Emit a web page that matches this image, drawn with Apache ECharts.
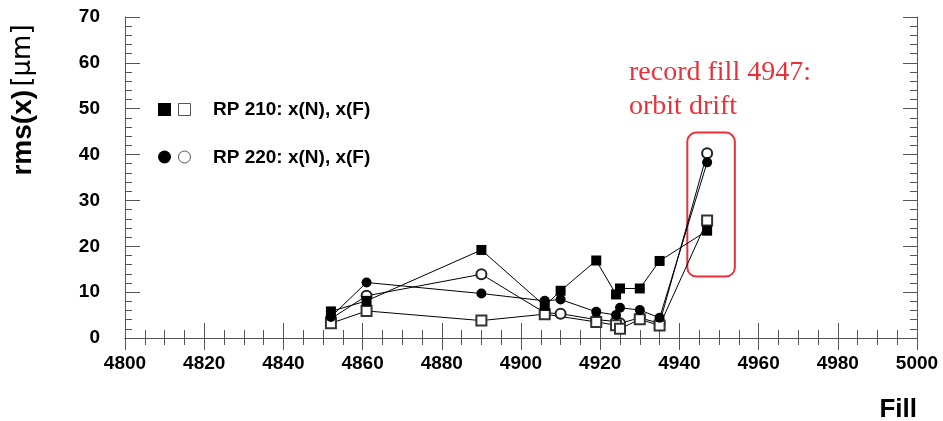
<!DOCTYPE html>
<html>
<head>
<meta charset="utf-8">
<script src="https://cdn.jsdelivr.net/npm/echarts@6/dist/echarts.min.js"></script>
<style>
  html, body { margin: 0; padding: 0; background: #fff; }
  #chart { width: 943px; height: 421px; }
</style>
</head>
<body>
<div id="chart"></div>
<script>
// Fill numbers and rms(x) values [µm] per Roman Pot unit
const fillsRP210N = [4852, 4861, 4890, 4906, 4910, 4919, 4924, 4925, 4930, 4935, 4947];
const rmsRP210N   = [5.8, 8.1, 19.2, 7.0, 10.3, 16.9, 9.5, 10.8, 10.8, 16.8, 23.4];

const fillsRP210F = [4852, 4861, 4890, 4906, 4919, 4924, 4925, 4930, 4935, 4947];
const rmsRP210F   = [3.2, 5.9, 3.8, 5.2, 3.5, 2.8, 2.0, 4.1, 2.7, 25.6];

const fillsRP220N = [4852, 4861, 4890, 4906, 4910, 4919, 4924, 4925, 4930, 4935, 4947];
const rmsRP220N   = [4.6, 12.1, 9.7, 8.1, 8.4, 5.7, 5.0, 6.6, 6.1, 4.4, 38.3];

const fillsRP220F = [4852, 4861, 4890, 4906, 4910, 4919, 4924, 4925, 4930, 4935, 4947];
const rmsRP220F   = [4.2, 9.2, 13.9, 5.5, 5.3, 4.0, 3.6, 3.2, 4.4, 3.2, 40.3];

const legendLabels = ['RP 210: x(N), x(F)', 'RP 220: x(N), x(F)'];
const noteLines = ['record fill 4947:', 'orbit drift'];
const xTitle = 'Fill';

// Highlight box around the record fill, in data units
const boxFill = [4942, 4954];
const boxRms = [44.8, 13.4];

const pair = (xs, ys) => xs.map((x, i) => [x, ys[i]]);

const labelFont = { fontFamily: 'Liberation Sans, Arial, sans-serif', fontWeight: 'bold', fontSize: 19, color: '#000' };
const axisGray = '#555';

function frameAxis(extra) {
  return Object.assign({
    axisLine: { show: true, lineStyle: { color: axisGray, width: 1 } },
    splitLine: { show: false },
    minorSplitLine: { show: false }
  }, extra);
}

const chart = echarts.init(document.getElementById('chart'), null, { renderer: 'canvas' });

const lineStyle = { color: '#000', width: 1 };
const plain = v => String(v);

chart.setOption({
  animation: false,
  backgroundColor: '#fff',
  grid: { left: 125, right: 26, top: 17, bottom: 83 },
  xAxis: [
    frameAxis({
      type: 'value', min: 4800, max: 5000, interval: 20, position: 'bottom',
      axisTick: { show: true, inside: true, length: 15, lineStyle: { color: axisGray } },
      minorTick: { show: true, splitNumber: 4, length: 8, lineStyle: { color: axisGray } },
      axisLabel: Object.assign({ margin: 16, formatter: plain }, labelFont)
    }),
    frameAxis({
      type: 'value', min: 4800, max: 5000, interval: 20, position: 'top',
      axisTick: { show: true, inside: true, length: 12, lineStyle: { color: axisGray } },
      minorTick: { show: true, splitNumber: 4, length: 7, lineStyle: { color: axisGray } },
      axisLabel: { show: false }
    })
  ],
  yAxis: [
    frameAxis({
      type: 'value', min: 0, max: 70, interval: 10, position: 'left',
      axisTick: { show: true, inside: true, length: 15, lineStyle: { color: axisGray } },
      minorTick: { show: true, splitNumber: 5, length: 7, lineStyle: { color: axisGray } },
      axisLabel: Object.assign({ margin: 25, formatter: plain }, labelFont)
    }),
    frameAxis({
      type: 'value', min: 0, max: 70, interval: 10, position: 'right',
      axisTick: { show: true, inside: true, length: 14, lineStyle: { color: axisGray } },
      minorTick: { show: true, splitNumber: 5, length: 7, lineStyle: { color: axisGray } },
      axisLabel: { show: false }
    })
  ],
  series: [
    {
      name: 'RP 220 x(F)', type: 'line', data: pair(fillsRP220F, rmsRP220F),
      symbol: 'emptyCircle', symbolSize: 10, lineStyle,
      itemStyle: { color: '#222', borderColor: '#222', borderWidth: 1 }
    },
    {
      name: 'RP 210 x(F)', type: 'line', data: pair(fillsRP210F, rmsRP210F),
      symbol: 'emptyRect', symbolSize: 10, lineStyle,
      itemStyle: { color: '#333', borderColor: '#333', borderWidth: 1 }
    },
    {
      name: 'RP 220 x(N)', type: 'line', data: pair(fillsRP220N, rmsRP220N),
      symbol: 'circle', symbolSize: 10, lineStyle,
      itemStyle: { color: '#000' }
    },
    {
      name: 'RP 210 x(N)', type: 'line', data: pair(fillsRP210N, rmsRP210N),
      symbol: 'rect', symbolSize: 10, lineStyle,
      itemStyle: { color: '#000' }
    }
  ]
});

// Annotation box placed from data coordinates
const p0 = chart.convertToPixel({ xAxisIndex: 0, yAxisIndex: 0 }, [boxFill[0], boxRms[0]]);
const p1 = chart.convertToPixel({ xAxisIndex: 0, yAxisIndex: 0 }, [boxFill[1], boxRms[1]]);

const red = '#e8313a';
const legendText = { fontFamily: 'Liberation Sans, Arial, sans-serif', fontWeight: 'bold', fontSize: 19, fill: '#000' };
const noteFont = { fontFamily: 'Liberation Serif, Times New Roman, serif', fontSize: 28, fill: red };

chart.setOption({
  graphic: [
    // y-axis title
    {
      type: 'text', x: 23, y: 100, rotation: Math.PI / 2,
      style: {
        text: '{b|rms(x)} {n|[μm]}',
        align: 'center', verticalAlign: 'middle',
        rich: {
          b: { fontFamily: 'Liberation Sans, Arial, sans-serif', fontWeight: 'bold', fontSize: 28, fill: '#000' },
          n: { fontFamily: 'DejaVu Sans, sans-serif', fontWeight: 'normal', fontSize: 26, fill: '#000' }
        }
      }
    },
    // x-axis title
    {
      type: 'text', x: 917, y: 410,
      style: { text: xTitle, align: 'right', verticalAlign: 'middle',
        fontFamily: 'Liberation Sans, Arial, sans-serif', fontWeight: 'bold', fontSize: 26, fill: '#000' }
    },
    // legend rows
    { type: 'rect', shape: { x: 158, y: 103, width: 13, height: 13 }, style: { fill: '#000' } },
    { type: 'rect', shape: { x: 178.5, y: 103.5, width: 12, height: 12 }, style: { fill: '#fff', stroke: '#555', lineWidth: 1 } },
    { type: 'text', x: 213, y: 110, style: Object.assign({ text: legendLabels[0], verticalAlign: 'middle' }, legendText) },
    { type: 'circle', shape: { cx: 164.5, cy: 157, r: 6.5 }, style: { fill: '#000' } },
    { type: 'circle', shape: { cx: 184.5, cy: 157, r: 6 }, style: { fill: '#fff', stroke: '#555', lineWidth: 1 } },
    { type: 'text', x: 213, y: 158, style: Object.assign({ text: legendLabels[1], verticalAlign: 'middle' }, legendText) },
    // record-fill note
    { type: 'text', x: 629, y: 73, style: Object.assign({ text: noteLines[0], verticalAlign: 'middle' }, noteFont) },
    { type: 'text', x: 629, y: 107, style: Object.assign({ text: noteLines[1], verticalAlign: 'middle' }, noteFont) },
    {
      type: 'rect',
      shape: { x: p0[0], y: p0[1], width: p1[0] - p0[0], height: p1[1] - p0[1], r: 9 },
      style: { fill: 'none', stroke: red, lineWidth: 2 }
    }
  ]
});
</script>
</body>
</html>
